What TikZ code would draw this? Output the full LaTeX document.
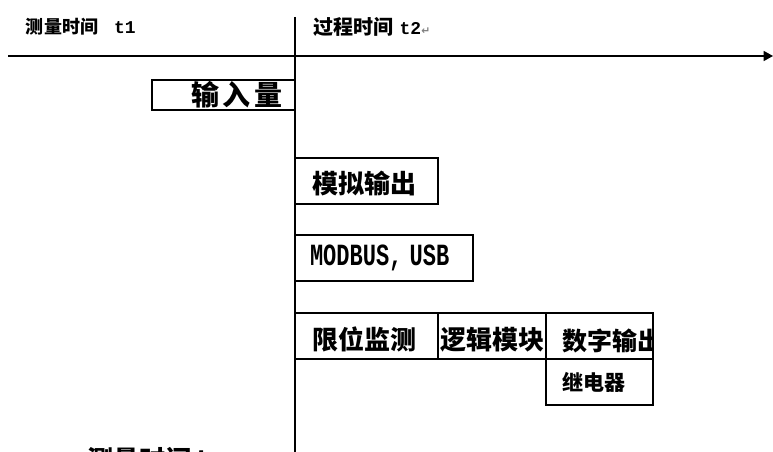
\documentclass[tikz,border=0pt]{standalone}
\usepackage{fontspec}
\usetikzlibrary{arrows.meta}
\newfontfamily\cjk{Noto Sans CJK SC}
\newfontfamily\monob{Liberation Mono}
\newfontfamily\symf{DejaVu Sans}
\tikzset{
  every node/.style={inner sep=0pt, outer sep=0pt},
  box/.style={draw, line width=0.8pt, rectangle, anchor=north west, inner sep=0pt},
  hdr/.style={anchor=west, font=\cjk\bfseries\fontsize{13.5}{14}\selectfont},
  big/.style={font=\cjk\bfseries\fontsize{19.5}{20}\selectfont},
  line/.style={line width=0.9pt},
}
\begin{document}
\begin{tikzpicture}[x=0.75pt,y=-0.75pt]
\useasboundingbox (0,0) rectangle (773,452);
% headers
\node[hdr] (h1) at (26,27) {测量时间\hspace{12pt}{\monob\bfseries\fontsize{13.5}{14}\selectfont t1}};
\node[hdr, font=\cjk\bfseries\fontsize{15}{16}\selectfont] (h2) at (313,27) {过程时间\hspace{5pt}{\monob\bfseries\fontsize{13.5}{14}\selectfont t2}{\symf\color{gray}\fontsize{8}{9}\selectfont ↵}};
% axis
\coordinate (a0) at (8,56);
\coordinate (a1) at (773,56);
\draw[line, line width=1.1pt, -{Triangle[length=7pt,width=7.5pt]}] (a0) -- (a1);
% vertical line
\coordinate (v0) at (295,17);
\coordinate (v1) at (295,470);
\draw[line] (v0) -- (v1);
% input box
\node[box, minimum width=107.25pt, minimum height=22.5pt, text width=89.25pt, align=right,
      font=\cjk\bfseries\fontsize{21}{22}\selectfont] (in) at (152,80) {输\hspace{3pt}入\hspace{3pt}量};
% analog output
\node[box, big, minimum width=107.25pt, minimum height=34.5pt, text width=81.75pt, align=left,
      text height=20.5pt, text depth=2.3pt] (ao) at (295,158) {模拟输出};
% modbus
\node[box, minimum width=133.5pt, minimum height=34.5pt, text width=111pt, align=left,
      font=\monob\bfseries\fontsize{16.5}{17}\selectfont] (mb) at (295,235) {\scalebox{1}[1.4]{MODBUS, USB}};
% bottom row
\node[box, big, minimum width=107.25pt, minimum height=34.5pt, text width=81.75pt, align=left,
      text height=22pt, text depth=2.3pt] (lim) at (295,313) {限位监测};
\node[box, big, minimum width=81pt, minimum height=34.5pt,
      text height=22pt, text depth=2.3pt] (lg) at (438,313) {逻辑模块};
\node[box, minimum width=80.25pt, minimum height=34.5pt] (dg) at (546,313) {};
\begin{scope}
\clip (dg.south west) rectangle (dg.north east);
\node[anchor=west, font=\cjk\bfseries\fontsize{18.75}{19}\selectfont] (dgt) at ([xshift=12pt,yshift=-3.5pt]dg.west) {数字输出};
\end{scope}
\node[box, minimum width=80.25pt, minimum height=34.5pt, text width=56.25pt, align=left,
      font=\cjk\bfseries\fontsize{15.75}{16}\selectfont] (rl) at (546,359) {\raisebox{-6pt}{继电器}};
% clipped bottom label
\node[anchor=north west, font=\cjk\bfseries\fontsize{19.5}{20}\selectfont] (bt) at (87,447) {测量时间 t};
\end{tikzpicture}
\end{document}
